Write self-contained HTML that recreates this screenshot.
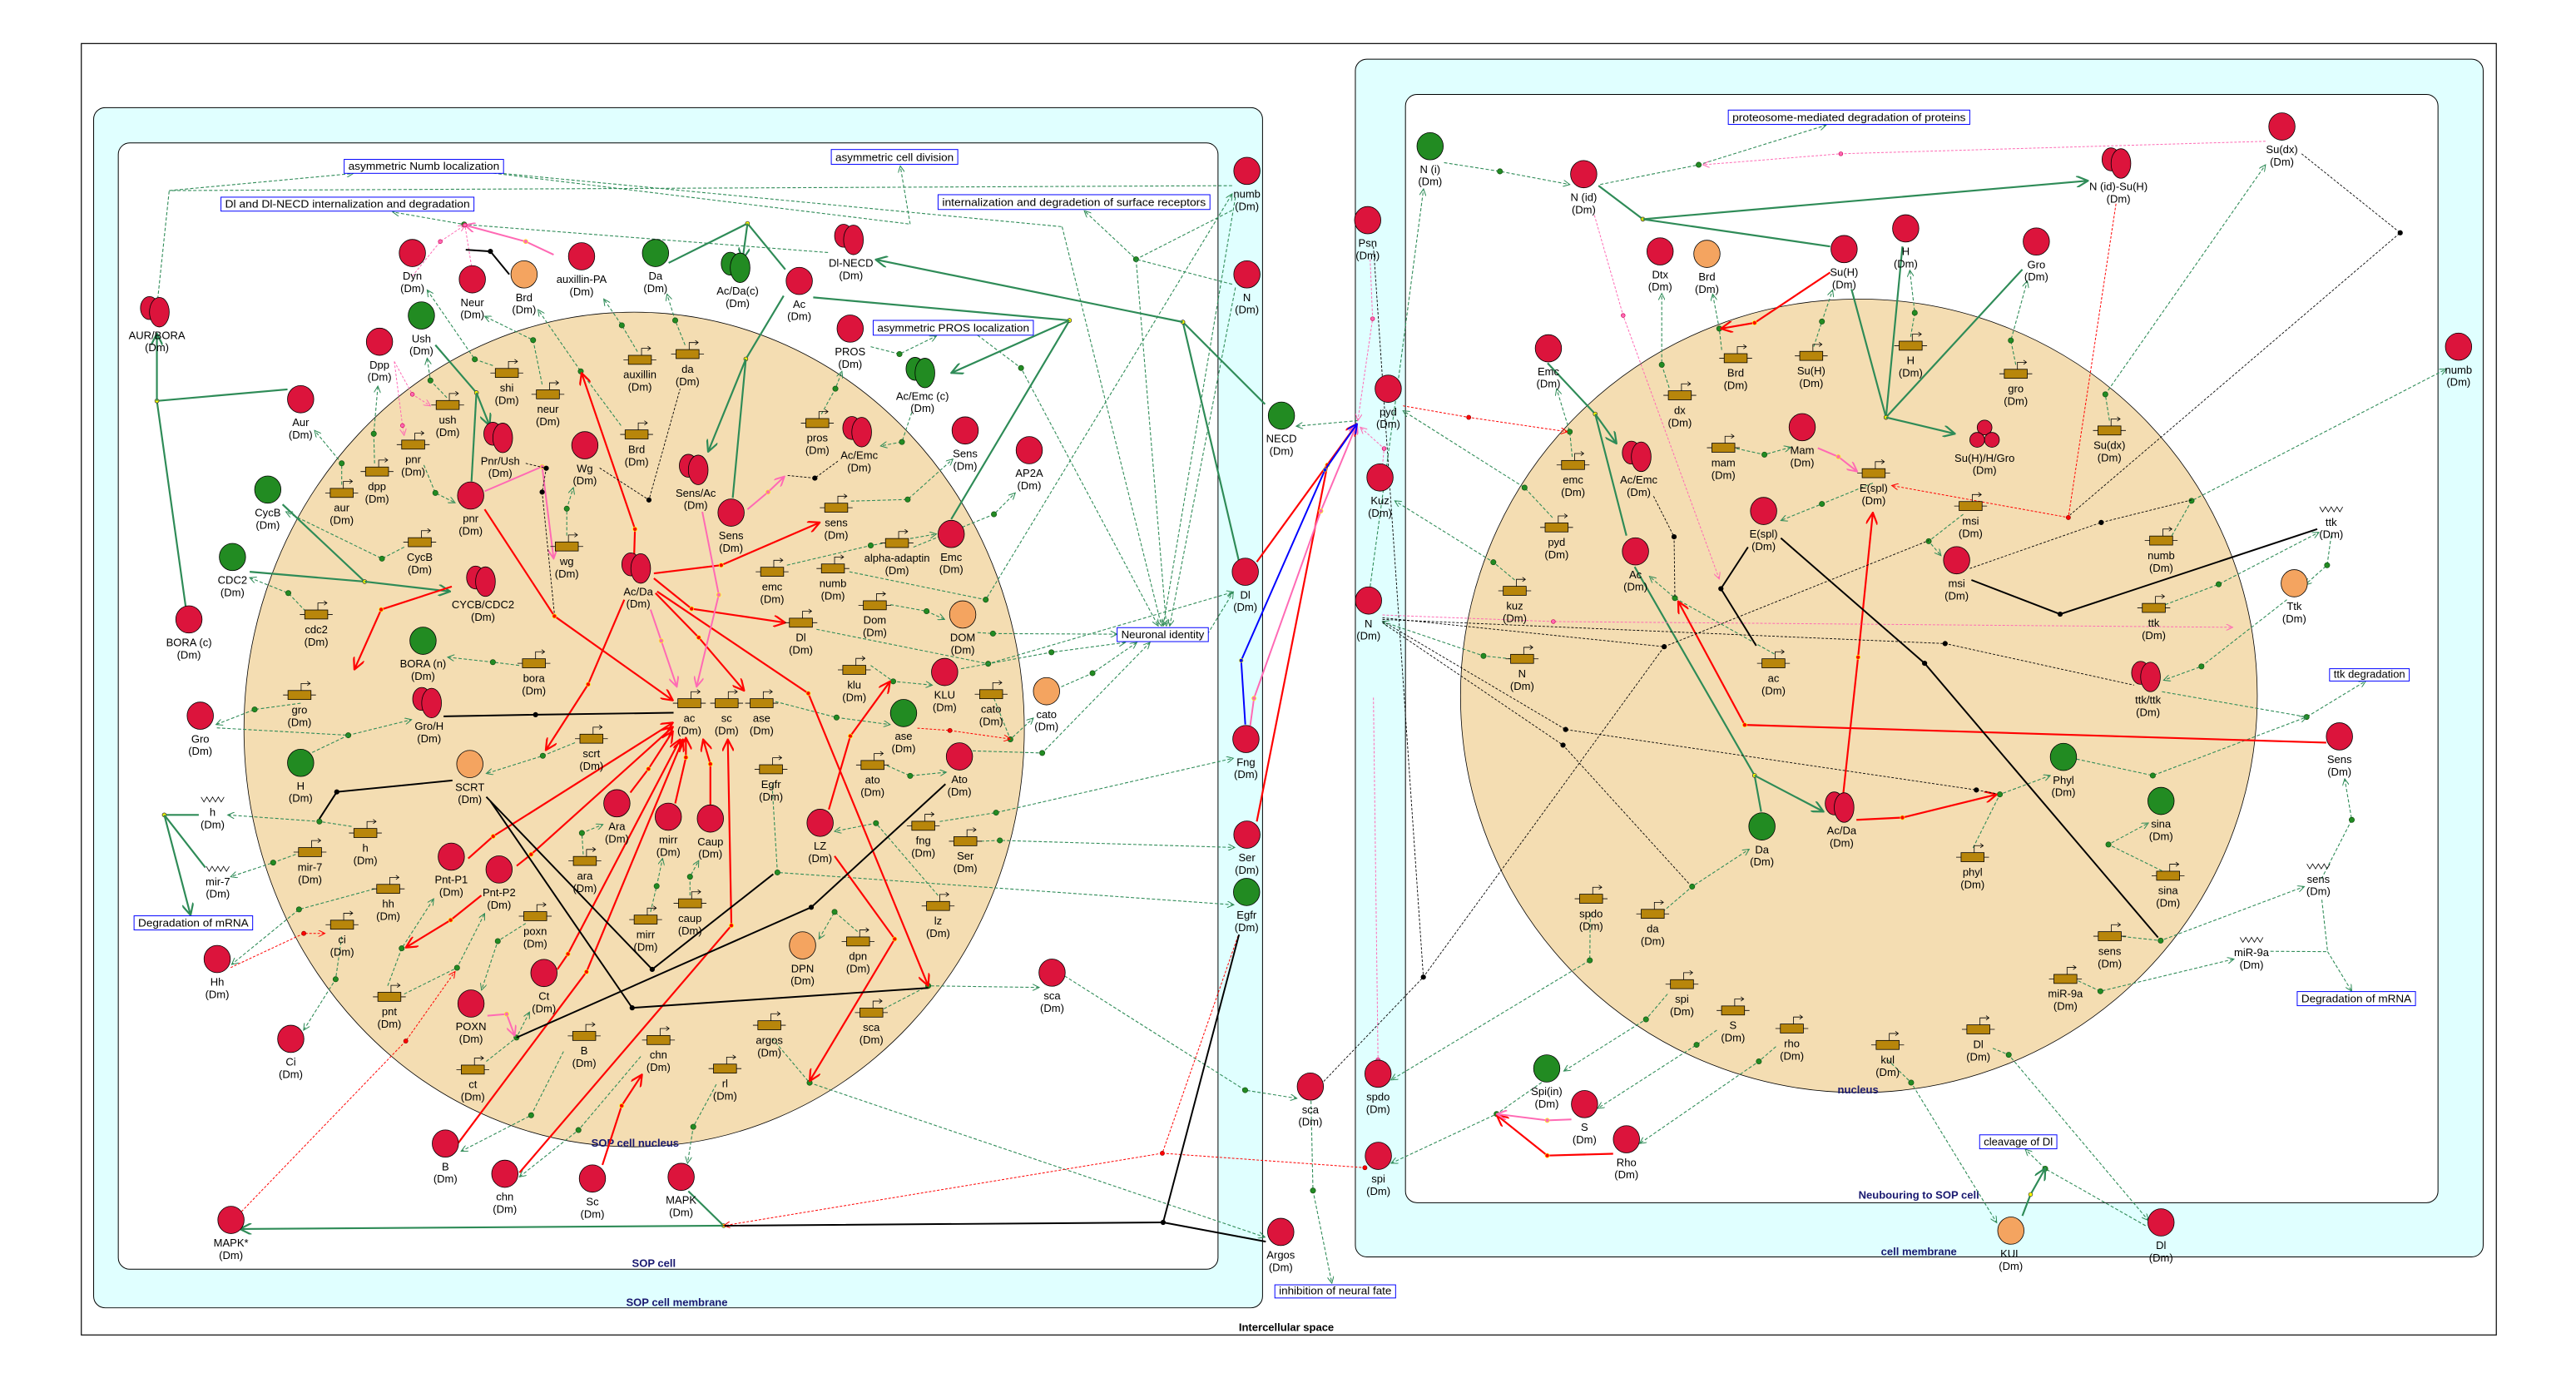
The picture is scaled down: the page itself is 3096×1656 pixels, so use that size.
<!DOCTYPE html>
<html><head><meta charset="utf-8"><style>
html,body{margin:0;padding:0;background:#fff;}
svg{display:block;}
text{font-family:"Liberation Sans",Arial,sans-serif;}
</style></head><body>
<svg id="s" xmlns="http://www.w3.org/2000/svg" width="3096" height="1656" viewBox="0 0 1568 838.7" preserveAspectRatio="none">
<defs>
<marker id="mg" viewBox="0 0 10 10" refX="10" refY="5" markerWidth="5" markerHeight="4" markerUnits="userSpaceOnUse" orient="auto"><path d="M0,0L10,5L0,10" fill="none" stroke="#2e8b57" stroke-width="1.3"/></marker>
<marker id="mG" viewBox="0 0 10 10" refX="10" refY="5" markerWidth="8" markerHeight="7" markerUnits="userSpaceOnUse" orient="auto"><path d="M0,0L10,5L0,10" fill="none" stroke="#2e8b57" stroke-width="1.6"/></marker>
<marker id="mR" viewBox="0 0 10 10" refX="10" refY="5" markerWidth="8" markerHeight="7" markerUnits="userSpaceOnUse" orient="auto"><path d="M0,0L10,5L0,10" fill="none" stroke="#f00" stroke-width="1.6"/></marker>
<marker id="mr" viewBox="0 0 10 10" refX="10" refY="5" markerWidth="5" markerHeight="4" markerUnits="userSpaceOnUse" orient="auto"><path d="M0,0L10,5L0,10" fill="none" stroke="#f00" stroke-width="1.3"/></marker>
<marker id="mP" viewBox="0 0 10 10" refX="10" refY="5" markerWidth="7" markerHeight="6" markerUnits="userSpaceOnUse" orient="auto"><path d="M0,0L10,5L0,10" fill="none" stroke="#ff69b4" stroke-width="1.6"/></marker>
<marker id="mp" viewBox="0 0 10 10" refX="10" refY="5" markerWidth="5" markerHeight="4" markerUnits="userSpaceOnUse" orient="auto"><path d="M0,0L10,5L0,10" fill="none" stroke="#ff69b4" stroke-width="1.3"/></marker>
<marker id="mB" viewBox="0 0 10 10" refX="10" refY="5" markerWidth="7" markerHeight="6" markerUnits="userSpaceOnUse" orient="auto"><path d="M0,0L10,5L0,10" fill="none" stroke="#00f" stroke-width="1.6"/></marker>
</defs>
<rect x="49.5" y="26.5" width="1470" height="786" fill="none" stroke="#000" stroke-width="0.6"/>
<rect x="57" y="65.5" width="711.5" height="730.5" rx="7" fill="#e0ffff" stroke="#000" stroke-width="0.5"/>
<rect x="72" y="87" width="669.4" height="685.5" rx="7" fill="#fff" stroke="#000" stroke-width="0.5"/>
<rect x="825" y="36" width="686.5" height="729" rx="7" fill="#e0ffff" stroke="#000" stroke-width="0.5"/>
<rect x="855.5" y="57.5" width="628.5" height="674.5" rx="7" fill="#fff" stroke="#000" stroke-width="0.5"/>
<ellipse cx="386" cy="444" rx="237.5" ry="254" fill="#f4ddb2" stroke="#000" stroke-width="0.4"/>
<ellipse cx="1131.5" cy="423.5" rx="242.5" ry="241.5" fill="#f4ddb2" stroke="#000" stroke-width="0.4"/>
<g font-weight="bold" font-size="6.6" fill="#191970" text-anchor="middle">
<text x="386.6" y="698">SOP cell nucleus</text>
<text x="398" y="771">SOP cell</text>
<text x="412" y="795">SOP cell membrane</text>
<text x="1131" y="665.5">nucleus</text>
<text x="1168" y="729.5">Neubouring to SOP cell</text>
<text x="1168" y="764">cell membrane</text>
<text x="783" y="810" fill="#000">Intercellular space</text>
</g>
<g id="edges"></g>
<g id="nodes"></g>
</svg>
<script>
var E=[
"gn 750,113 103,116","g 103,116 215,105.6","gn 96,182 103,116",
"gn 297,105 554,136.4","g 554,136.4 548,101","gn 300,105 646.5,138","g 646.5,138 707,381",
"g 504,153.7 282.5,136.6 239,129",
"g 750,128 691.5,157.8 660,128.3","gn 750,173 691.5,157.8","g 691.5,157.8 710,381",
"g 752,120 708,381","g 752,175 712,381",
"g 530,211 547.5,215.5 570,204.5","g 595,204 621.5,224 705,381",
"g 555,251 549,269 536,271.4",
"g 300,222.5 289,218.7 260,176.5","g 272,242 262,231.6 260,218","g 330,234 324.5,207 295,192.5",
"g 388,214 378.5,198 367.5,182","g 417,210 411,195 406,179","g 378,259 353.5,226 327.5,188.5",
"g 258,283 265,300 277,306","g 228,282 227.5,264 230,235","g 208,295 208,282 191.5,262",
"g 246,333 232.5,340 174,311.5","g 186,372 175.5,361 152,351.6","g 316,405 300,403 272.5,400",
"g 345,326 345,309.6 349,296.8","g 500,252 508.5,236.6 512.5,226","g 518,305 552.5,304 580,279.4",
"g 479,344 530,332 570,325","g 542,368 564,372 575,377","g 517,348 600,365 750,118",
"g 556,333 605,313 618,300","g 497,383 601.5,404 750.7,360.3","g 530,405 543.7,414.7 567.5,417",
"g 605,425 615,450 629,437","g 540,466 554,472.2 576,470","g 572,500 606.3,494.6 750.7,461.5",
"g 597,512 608.6,511.5 751.6,515.8","g 470,478 473.2,531 751,550.7","g 571,545 533.2,501 508,506",
"g 538,614 565,600 632.5,601","g 522,567 508,555 498.5,571.5","g 470,632 492.8,659 770,753",
"g 183,428 155,431.8 131.5,441","g 350,452 330.4,460 296,470.8","g 214,503 194.4,500 138.6,496",
"g 180,520 166.3,525 140.4,533.6","g 228,541 182,553.5 141,587","g 208,570 204.3,596 184.8,627",
"g 236,600 244.5,577.2 264,547","g 246,605 278.2,589 295,556","g 320,562 303,572.8 293.1,602.6",
"g 296,646 314.4,631.5 322.3,616","g 355,520 354.2,507 367,501.8","g 420,545 420,533.6 425.3,523.8",
"g 396,555 399.7,539.3 403.3,522.5","g 343,640 323.3,678.8 280.7,700.7","g 390,643 352.1,687.8 316.2,716.3",
"g 436,660 422,685.8 418.5,708","g 472,427 509.2,436.7 541.8,441",
"g 132,443 212,447.5 250.5,438","gn 190,458 212,447.5",
"g 595,385 604.4,385.6 680,386","g 585,407 640,397 685,391","g 646,418 665,409.7 692,391","g 592,457 634.4,458.3 700,391",
"g 735,386 750.7,360.3","g 648,594 757.9,663.5 789.4,668.5",
"g 879,99 913,104.3 955.5,112.3","g 974,112.3 1034,100.3 1111.5,76.2","g 834,357 850,240 866.5,115",
"g 826.5,256 789,259.4",
"g 1048,213 1046.5,200 1042.5,179","g 1016,236 1011.5,222 1011.5,178.6","g 1104,211 1109,195.7 1115.5,176.5",
"g 1163,205 1165.5,190.4 1162.5,164.4","g 1227,222 1224,207.2 1234,171","g 1284,256 1281.5,240 1379,100.3",
"g 957,278 955.5,262.8 947.5,236.6","g 1057,273 1074,276.7 1090,272.2","g 1140,294 1109,306.7 1084,316.8",
"g 1195,313 1174,329.4 1181.5,338.2","g 945,315 928,296.8 854,250","g 922,353 909,342.2 849,304.8",
"g 1322,326 1334,304.8 1489,224.6","g 1318,368 1350.5,355.6 1411.5,324","g 1419,326 1416.5,344 1403,356",
"g 1392,365 1340,405.6 1317,414","g 1316,421 1404,436.4 1440,414.5",
"g 920,401 903,399.2 841.5,378.3","g 1080,398 1019.5,364 1004,350.8",
"g 1201,516 1217.3,483.5 1248,472","g 1264,462 1310.4,472 1404,436.4","g 1316,530 1283.4,514 1307.7,500.9",
"g 1292,570 1315.2,572.5 1402.6,539.6","g 1413,535 1431.5,499 1427.2,474","g 1265,597 1278.5,603.3 1359.8,583.7",
"gn 1382,579 1416.8,579.2","gn 1413.3,547.6 1416.8,579.2","g 1416.8,579.2 1431.5,603.3",
"g 1213,638 1222.7,642 1307.7,742.8","g 1149,645 1163.3,658.9 1215.4,744.2","g 1306,746 1244.9,711.3 1232.8,699.5",
"g 968,556 967.7,584.5 846.8,657.3","g 1015,605 1001.9,620.4 951.9,651.9","g 1045,627 1032.7,635.9 972.5,674.6",
"g 1081,637 1070.6,646 998,696","g 941,657 911,678 846.8,708","g 798,670 799.2,724.6 810.7,781",
"g 1012,555 1030,539.6 1064.7,516.9",
"Gn 175,237 95.5,244","Gn 113,369 95.5,244","G 95.5,244 95.5,203",
"Gn 265,210 290,239","Gn 287,293 290,239","G 290,239 298,259",
"Gn 172,307 222,354","Gn 152,348 222,354","G 222,354 274,360",
"Gn 407,160 455,136","Gn 478,164 455,136","G 455,136 452,158",
"Gn 477,180 454,218.5","Gn 446,303 454,218.5","G 454,218.5 431,275",
"Gn 495,181 651,195","Gn 579,316 651,195","G 651,195 579,227",
"Gn 770,246 720,196","Gn 754,341 720,196","G 720,196 533,158",
"Gn 121,496 100,496","Gn 125,528 100,496","G 100,496 116,557",
"Gn 419,725 440.5,746","G 440.5,746 146,748",
"Gn 973,113 1000,133.4","Gn 1114,150 1000,133.4","G 1000,133.4 1271,110",
"Gn 1127,176 1148,254","Gn 1158,150 1148,254","Gn 1231,164 1148,254","G 1148,254 1190,264",
"Gn 942,221 971,252","Gn 990,326 971,252","G 971,252 984,270",
"Gn 1072,494 1068,472","Gn 995,345 1068,472","G 1068,472 1110,494",
"G 1231,740 1236,727 1245,711",
"r 386,338 386.5,322 354,227","r 398,349 439,344 499,318","r 398,352 421,370.5 478,379",
"r 295,310 337.5,375 409.6,426.3","r 275,357 232,371 215.7,407.5","r 380,365 358,416.5 332.2,456.6",
"r 399,361 425.3,388 453,420.4","r 400,360 492,422 565,600","r 285,522.5 300.2,509 409.6,439.8",
"r 314.5,527 323.3,520 409.6,442.4","r 293,545 274.3,560 247,576.7","r 383.7,482.4 394.7,468 409.6,445",
"r 411,489 417.5,461 417.5,449","r 432.4,490 432.4,465 428,450","r 339.3,590 345.7,580.6 414,450",
"r 279,695.6 357,591.5 415.7,450","r 316.2,713.7 445.2,563.3 443,450","r 366.7,709 378.4,673 390.8,654",
"r 504.5,492.7 517.6,448 541.8,414.7","r 508,521 544.6,571.5 492.8,658",
"r 1114,165.8 1068,196.5 1047.5,200","r 1122,483 1131,400 1140,312","r 1416,452 1062,441.2 1021.5,366",
"r 1130,499 1158,497.6 1215.4,483.5","r 981.9,702.2 941.8,703.3 911,678.7",
"r 765,342 826,258","r 765,500 808,283 826,258",
"rd 147,737.4 247,633.6 277,591.3","rd 140.4,588.9 184.9,568.1 197.8,568.1","rd 558.4,443.2 578.2,444.6 615,449.8",
"rdn 753.6,569.6 707.5,701.9","rd 707.5,701.9 440.5,746","rdn 707.5,701.9 830.8,710.7",
"rd 854,247 894,254 954,262.8","rd 1288,124 1259,315 1151.5,295.5",
"pd 251,168 268,147 283,137","p 337,155 320,147 283,137","pdn 287,162 283,137",
"p 295,299 330,284 337,340","pd 240,220 251,240 262,247","pd 240,220 245,259 246,265",
"p 296.7,618.2 308.4,617.2 313.3,630.4","p 427.5,311.5 437.5,362 424,418","p 396,371 402.5,390 412,418",
"p 455,310 467.5,299.5 477.5,290",
"pd 1379,86 1120.5,93.6 1036.5,100.3","pd 970.5,131 988,192 1046.5,352.4","p 1106.5,272.7 1119,278 1130.5,287",
"pd 841.5,374.3 945.5,378.3 1359,381.8","pd 834,157.8 835.5,194 826.5,256","pd 841.5,283.4 842.5,273 828,260",
"p 956.5,681.3 941.8,681.9 911,678","p 761,441.7 763.3,425 804,311 826,258","pdn 836,424.6 838.8,645",
"b 758,441 755.5,402 806.5,286 826,258",
"k 283.5,152 298.5,153 310,167","k 270,436 326,435 410,433.8","k 275.4,475 205,482 194.4,498.4",
"k 296,485 397,590 470.7,532","k 298.5,487.6 384.8,613.4 565,601.3","k 575.5,477.2 493.8,552.2 314.4,631.5",
"k 754.2,568.8 708,744","k 441,746 708,744 770.5,755.7",
"kd 320,282 332.5,285 330,299.5 337.5,374","kd 365,284.8 395,304.3 414,236.6","kd 510,280.7 496,291 478.5,289.3",
"kd 1401,93.6 1461,141.7 1260,313.4","k 1084,327.5 1171.5,403.7 1313.6,570.6","k 1064,333 1047.5,358.3 1069,393",
"kd 1006.5,302 1019,326.7 1019.5,363","k 1200,353 1254,373.8 1410.5,322","kd 1199,346 1279,318 1334,304.3",
"kd 841.5,376 1013,393.6 1174,329","kd 841.5,377 1184,391.7 1299,417","kd 841.5,378 953,444 1203,480.8 1215,483",
"kd 841.5,379 951.4,453.5 1028,537.7","kd 804,660 866.4,594.7 1013,393.6","kd 836,150 866.4,594.7"
];
var ST={g:["#2e8b57",.55,"2,1.2","mg","g"],G:["#2e8b57",1.1,"","mG","y"],r:["#f00",1.1,"","mR","ry"],
rd:["#f00",.5,"1.5,1","mr","r"],p:["#ff69b4",1,"","mP","py"],pd:["#ff69b4",.5,"1.5,1","mp","p"],
k:["#000",1,"","","k"],kd:["#000",.45,"1.5,1","","k"],b:["#00f",1,"","mB","b"]};
var DOT={g:['#228b22','#145214',1.6],y:['#ff0','#333',1.2],ry:['#f00','#ff0',1.3],r:['#f00','#900',1.3],py:['#ff69b4','#ff0',1.3],p:['#ff69b4','#c05',1.2],k:['#000','#000',1.4],b:['#00f','#ff0',1.2]};
var h='';
E.forEach(function(s){var a=s.split(' ');var t=a[0];var na=false;
 if(t.length>1&&t[t.length-1]=='n'){na=true;t=t.slice(0,-1);}
 var st=ST[t];var pts=a.slice(1).join(' ');
 h+='<polyline points="'+pts+'" fill="none" stroke="'+st[0]+'" stroke-width="'+st[1]+'"'+(st[2]?' stroke-dasharray="'+st[2]+'"':'')+((st[3]&&!na)?' marker-end="url(#'+st[3]+')"':'')+'/>';
 var P=a.slice(1);var d=DOT[st[4]];
 for(var i=1;i<P.length-1;i++){var q=P[i].split(',');h+='<circle cx="'+q[0]+'" cy="'+q[1]+'" r="'+d[2]+'" fill="'+d[0]+'" stroke="'+d[1]+'" stroke-width=".35"/>';}
 if(na&&t!='g'){var q=P[P.length-1].split(',');h+='<circle cx="'+q[0]+'" cy="'+q[1]+'" r="'+d[2]+'" fill="'+d[0]+'" stroke="'+d[1]+'" stroke-width=".35"/>';}
});
document.getElementById('edges').innerHTML=h;
var R='#dc143c',Gc='#228b22',O='#f4a460';
var PR=[[251,154,R,'Dyn'],[287.5,170,R,'Neur'],[319,167,O,'Brd'],[354,156,R,'auxillin-PA'],[399,154,Gc,'Da'],[449,163,Gc,'Ac/Da(c)','d'],[486.5,171,R,'Ac'],[518,146,R,'Dl-NECD','d'],[95.5,190,R,'AUR/BORA','d'],[256.5,192,Gc,'Ush'],[231,208,R,'Dpp'],[183,243,R,'Aur'],[517.5,200,R,'PROS'],[561.5,227,Gc,'Ac/Emc (c)','d'],[587.5,262,R,'Sens'],[626.5,274,R,'AP2A'],[759,104,R,'numb'],[759,167,R,'N'],[780,253,Gc,'NECD'],[758,348,R,'Dl'],[163,298,Gc,'CycB'],[141.5,339,Gc,'CDC2'],[115,377,R,'BORA (c)'],[304.5,266.5,R,'Pnr/Ush','d'],[356,271,R,'Wg'],[423.5,286,R,'Sens/Ac','d'],[445,312,R,'Sens'],[286.5,301.6,R,'pnr'],[523,263,R,'Ac/Emc','d'],[579,325,R,'Emc'],[388.5,346,R,'Ac/Da','d'],[294,354,R,'CYCB/CDC2','d'],[586,374,O,'DOM'],[257.5,390,Gc,'BORA (n)'],[575,409,R,'KLU'],
[121.9,435.6,R,'Gro'],[261.2,427.9,R,'Gro/H','d'],[550,434,Gc,'ase'],[637,420.7,O,'cato'],[584,460.4,R,'Ato'],[183,464.3,Gc,'H'],[286,465,O,'SCRT'],[375.5,488.9,R,'Ara'],[406.8,497.1,R,'mirr'],[432.4,498.2,R,'Caup'],[499.2,500.8,R,'LZ'],[274.7,521.4,R,'Pnt-P1'],[303.8,529.2,R,'Pnt-P2'],[488.5,575.4,O,'DPN'],[331.1,592.2,R,'Ct'],[286.7,610.8,R,'POXN'],[177,632.3,R,'Ci'],[132.2,583.7,R,'Hh'],[640.4,592,R,'sca'],[271.1,696,R,'B'],[307.3,714.4,R,'chn'],[360.6,717.3,R,'Sc'],[414.6,716.3,R,'MAPK'],[140.6,742.5,R,'MAPK*'],[758.4,449.8,R,'Fng'],[759,508,R,'Ser'],[758.8,542.9,Gc,'Egfr'],[779.6,749.8,R,'Argos'],
[870.5,89,Gc,'N (i)'],[964,106,R,'N (id)'],[1289.5,99.5,R,'N (id)-Su(H)','d'],[1389,77,R,'Su(dx)'],[832.5,134,R,'Psn'],[1010.5,153,R,'Dtx'],[1039,154.5,O,'Brd'],[1122.5,151.6,R,'Su(H)'],[1160,139,R,'H'],[1239.5,147,R,'Gro'],[942.5,212,R,'Emc'],[845,236.6,R,'pyd'],[1496.5,211,R,'numb'],[840,290.6,R,'Kuz'],[833,365.5,R,'N'],[1097,260,R,'Mam'],[997.5,278,R,'Ac/Emc','d'],[1208,264.7,R,'Su(H)/H/Gro','t'],[1073.5,311,R,'E(spl)'],[995.5,335.6,R,'Ac'],[1191,341,R,'msi'],[1396.5,355,O,'Ttk'],[1307.5,412,R,'ttk/ttk','d'],[1121,491.5,R,'Ac/Da','d'],[1072.5,503,Gc,'Da'],[797.6,661.3,R,'sca'],[838.8,653.5,R,'spdo'],[941.5,650.3,Gc,'Spi(in)'],[964.5,672,R,'S'],[990,693.4,R,'Rho'],[839,703.5,R,'spi'],[1424,448.2,R,'Sens'],[1256,460.7,Gc,'Phyl'],[1315.4,487.5,Gc,'sina'],[1224,749,O,'KUL'],[1315.4,744,R,'Dl']];
var GN=[[308.5,227,'shi'],[389.5,219,'auxillin'],[418.5,215.5,'da'],[272.5,246.5,'ush'],[333.5,240,'neur'],[387.5,264.4,'Brd'],[497.5,257.5,'pros'],[251.5,270.6,'pnr'],[229.5,287,'dpp'],[208,300,'aur'],[255.5,330,'CycB'],[345,332.6,'wg'],[192.5,374,'cdc2'],[509,309,'sens'],[546,330.5,'alpha-adaptin'],[470,348,'emc'],[507,346,'numb'],[532.5,368.4,'Dom'],[487.5,379,'Dl'],[325,403.7,'bora'],[520,407.7,'klu'],[182.3,423,'gro'],[419.6,428,'ac'],[442.3,428,'sc'],[463.6,428,'ase'],[360,449.6,'scrt'],[603.3,422.5,'cato'],[531.1,465.6,'ato'],[469.3,468.2,'Egfr'],[222.4,507,'h'],[188.7,518.6,'mir-7'],[356,524,'ara'],[562,502.6,'fng'],[587.6,512,'Ser'],[236.3,541,'hh'],[420,549.8,'caup'],[393,559.7,'mirr'],[571,551.4,'lz'],[325.8,557.6,'poxn'],[208.2,562.8,'ci'],[522.3,573,'dpn'],[237,606.7,'pnt'],[530.4,616.3,'sca'],[468.3,624,'argos'],[355.6,630.5,'B'],[400.8,633,'chn'],[287.8,651,'ct'],[441.3,650.4,'rl'],
[1056.5,218,'Brd'],[1102.5,216.6,'Su(H)'],[1163,210.4,'H'],[1227,227.5,'gro'],[1022.5,240.6,'dx'],[1284,262,'Su(dx)'],[957.5,283,'emc'],[1049,272.5,'mam'],[1140.5,288,'E(spl)'],[1199.5,308,'msi'],[947.5,321,'pyd'],[1315.5,329,'numb'],[922,359.6,'kuz'],[1311,370,'ttk'],[926.5,401,'N'],[1079.5,403.7,'ac'],[968.5,547,'spdo'],[1006,556.2,'da'],[1023.8,599,'spi'],[1054.9,615,'S'],[1090.7,626,'rho'],[1149,636,'kul'],[1200.7,521.7,'phyl'],[1319.7,533,'sina'],[1284.2,569.8,'sens'],[1257.2,595.8,'miR-9a'],[1204.2,626.5,'Dl']];
var MR=[[129.4,486.6,'h'],[132.6,528.8,'mir-7'],[1419,310,'ttk'],[1411.2,527.3,'sens'],[1370.5,572,'miR-9a']];
var BX=[[209.5,97,306.5,105.5,'asymmetric Numb localization'],[134.5,120,288.5,128.5,'Dl and Dl-NECD internalization and degradation'],[506,91,583,100,'asymmetric cell division'],[571,118.5,736.5,127.5,'internalization and degradetion of surface receptors'],[531.5,195,629,204,'asymmetric PROS localization'],[680,382,735.5,390.5,'Neuronal identity'],[81.6,557.4,153.8,566,'Degradation of mRNA'],[1052,67,1199,75.7,'proteosome-mediated degradation of proteins'],[1418,407,1466.5,414.5,'ttk degradation'],[1398.3,603.5,1470.3,612.1,'Degradation of mRNA'],[1205,690.7,1252,699.2,'cleavage of Dl'],[776,782,849.5,790,'inhibition of neural fate']];
var n='';
function lab(x,y,t){return '<text x="'+x+'" y="'+y+'" font-size="6.6" text-anchor="middle">'+t+'</text>';}
PR.forEach(function(p){var x=p[0],y=p[1],c=p[2],t=p[4];var sw=' stroke="#000" stroke-width=".4"';
 if(t=='d'){n+='<ellipse cx="'+(x-4.5)+'" cy="'+(y-2.5)+'" rx="5.5" ry="7" fill="'+c+'"'+sw+'/><ellipse cx="'+(x+1.5)+'" cy="'+y+'" rx="6" ry="9" fill="'+c+'"'+sw+'/>';}
 else if(t=='t'){n+='<circle cx="'+x+'" cy="'+(y-4.5)+'" r="4.5" fill="'+c+'"'+sw+'/><circle cx="'+(x-4.5)+'" cy="'+(y+3)+'" r="4.5" fill="'+c+'"'+sw+'/><circle cx="'+(x+4.5)+'" cy="'+(y+3)+'" r="4.5" fill="'+c+'"'+sw+'/>';}
 else n+='<ellipse cx="'+x+'" cy="'+y+'" rx="8" ry="8.3" fill="'+c+'"'+sw+'/>';
 n+=lab(x,y+16.3,p[3])+lab(x,y+23.8,'(Dm)');});
GN.forEach(function(g){var x=g[0],y=g[1];
 n+='<line x1="'+(x-10)+'" y1="'+y+'" x2="'+(x+10)+'" y2="'+y+'" stroke="#000" stroke-width=".4"/>';
 n+='<rect x="'+(x-7)+'" y="'+(y-2.75)+'" width="14" height="5.5" fill="#b8860b" stroke="#000" stroke-width=".4"/>';
 n+='<path d="M'+(x+1)+','+(y-2.75)+'V'+(y-7)+'H'+(x+6.5)+'M'+(x+4.7)+','+(y-8.3)+'L'+(x+6.5)+','+(y-7)+'L'+(x+4.7)+','+(y-5.7)+'" fill="none" stroke="#000" stroke-width=".4"/>';
 n+=lab(x,y+11.3,g[2])+lab(x,y+18.9,'(Dm)');});
MR.forEach(function(m){var x=m[0],y=m[1],pts='';for(var i=0;i<=8;i++){pts+=(x-7+i*1.75)+','+(y+(i%2?1.5:-1.5))+' ';}
 n+='<polyline points="'+pts+'" fill="none" stroke="#000" stroke-width=".4"/>'+lab(x,y+10,m[2])+lab(x,y+17.5,'(Dm)');});
BX.forEach(function(b){var w=b[2]-b[0];n+='<rect x="'+b[0]+'" y="'+b[1]+'" width="'+w+'" height="'+(b[3]-b[1])+'" fill="#fff" stroke="#00f" stroke-width=".5"/>';
 n+='<text x="'+((b[0]+b[2])/2)+'" y="'+(b[3]-2.1)+'" font-size="6.3" text-anchor="middle" textLength="'+(w-5)+'" lengthAdjust="spacingAndGlyphs">'+b[4]+'</text>';});
document.getElementById('nodes').innerHTML=n;
</script>
</body></html>
